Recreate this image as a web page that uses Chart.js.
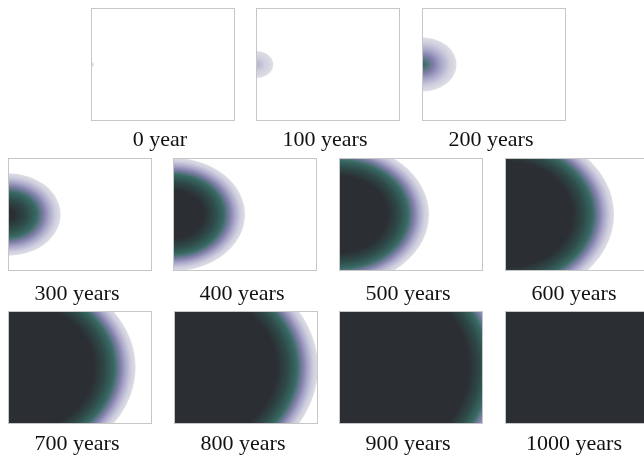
<!DOCTYPE html>
<html lang="en">
<head>
  <meta charset="UTF-8">
  <title>Front spreading over time</title>
  <script src="https://cdn.jsdelivr.net/npm/chart.js"></script>
  <style>
    body { margin: 0; background: #fff; overflow: hidden; width: 644px; height: 460px; position: relative; }
    canvas { position: absolute; }
  </style>
</head>
<body>
  <script>
    // data: front radius in domain units (domain is 1 x 1, source at x=0, y=0.5)
    const years = [0, 100, 200, 300, 400, 500, 600, 700, 800, 900, 1000];
    const yearLabels = ['0 year', '100 years', '200 years', '300 years', '400 years', '500 years',
                        '600 years', '700 years', '800 years', '900 years', '1000 years'];
    const frontRadius = [0.02, 0.12, 0.24, 0.365, 0.5, 0.625, 0.757, 0.886, 1.0, 1.19, 1.45];

    // colour ramp behind the front (distance behind front -> colour)
    const rampDepth = [0, 0.03, 0.07, 0.10, 0.15, 0.21, 0.29];
    const rampColor = ['#dedee6', '#cfcfde', '#a9a7c9', '#8583ad', '#386963', '#2e4a49', '#2b2e32'];

    // panel placement (chart area top-left corners)
    const slots = [
      [91, 8], [256, 8], [422, 8],
      [8, 158], [173, 158], [339, 158], [505, 158],
      [8, 311], [174, 311], [339, 311], [505, 311]
    ];
    const rowGap = { 8: 6, 158: 10, 311: 7 };
    const PANEL_W = 144, PANEL_H = 113, SHIFT = 6;

    function hexToRgb(h) {
      const n = parseInt(h.slice(1), 16);
      return [(n >> 16) & 255, (n >> 8) & 255, n & 255];
    }
    function mix(a, b, t) {
      const A = hexToRgb(a), B = hexToRgb(b);
      return 'rgb(' + A.map((v, i) => Math.round(v + (B[i] - v) * t)).join(',') + ')';
    }

    const frontPlugin = {
      id: 'front',
      beforeDatasetsDraw(chart) {
        const R = chart.options.plugins.front.radius;
        const { ctx, chartArea: a } = chart;
        const xs = chart.scales.x, ys = chart.scales.y;
        const x0 = xs.getPixelForValue(0), y0 = ys.getPixelForValue(0.5);
        const rx = xs.getPixelForValue(R) - x0;
        const ry = y0 - ys.getPixelForValue(0.5 + R);
        // young fronts are wider / softer
        const k = 1 + Math.min(1, Math.max(0, (0.4 - R) / 0.3));
        const depth = rampDepth.map(d => d * k);
        ctx.save();
        ctx.beginPath();
        ctx.rect(a.left, a.top, a.right - a.left, a.bottom - a.top);
        ctx.clip();
        ctx.translate(x0, y0);
        ctx.scale(1, ry / rx);
        const g = ctx.createRadialGradient(0, 0, 0, 0, 0, rx);
        for (let i = 0; i < depth.length; i++) {
          const off = 1 - depth[i] / R;
          if (off >= 0) {
            g.addColorStop(off, rampColor[i]);
          } else {
            const t = (R - depth[i - 1]) / (depth[i] - depth[i - 1]);
            g.addColorStop(0, mix(rampColor[i - 1], rampColor[i], t));
            break;
          }
        }
        ctx.fillStyle = g;
        ctx.beginPath();
        ctx.arc(0, 0, rx, 0, Math.PI * 2);
        ctx.fill();
        ctx.restore();
      },
      afterDraw(chart) {
        const { ctx, chartArea: a } = chart;
        ctx.save();
        ctx.strokeStyle = '#c6c6c6';
        ctx.lineWidth = 1;
        ctx.strokeRect(a.left + 0.5, a.top + 0.5, a.right - a.left - 1, a.bottom - a.top - 1);
        ctx.restore();
      }
    };

    years.forEach((yr, i) => {
      const [px, py] = slots[i];
      const gap = rowGap[py];
      const canvas = document.createElement('canvas');
      canvas.width = PANEL_W + SHIFT;
      canvas.height = PANEL_H + 26 + gap;
      canvas.style.left = (px - SHIFT) + 'px';
      canvas.style.top = py + 'px';
      document.body.appendChild(canvas);

      new Chart(canvas, {
        type: 'scatter',
        data: {
          datasets: [{ label: yearLabels[i], data: [{ x: 0, y: 0.5 }], pointRadius: 0 }]
        },
        plugins: [frontPlugin],
        options: {
          responsive: false,
          animation: false,
          events: [],
          layout: { padding: 0 },
          scales: {
            x: { type: 'linear', min: 0, max: 1, display: false },
            y: {
              type: 'linear', min: 0, max: 1, position: 'left',
              ticks: { display: false }, grid: { display: false }, border: { display: false },
              afterFit: (s) => { s.width = SHIFT; }
            }
          },
          plugins: {
            legend: { display: false },
            tooltip: { enabled: false },
            front: { radius: frontRadius[i] },
            title: {
              display: true,
              position: 'bottom',
              text: yearLabels[i],
              color: '#111',
              font: { family: 'Liberation Serif', size: 22, weight: 'normal', lineHeight: '26px' },
              padding: { top: gap, bottom: 0 }
            }
          }
        }
      });
    });
  </script>
</body>
</html>
